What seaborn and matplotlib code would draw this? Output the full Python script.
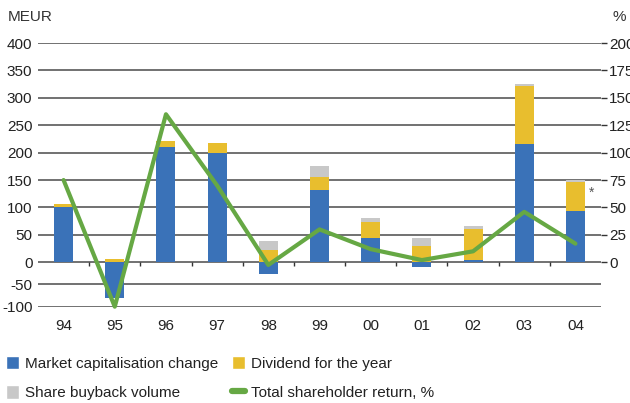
import numpy as np
import pandas as pd
import seaborn as sns
import matplotlib.pyplot as plt
from matplotlib.patches import Patch
from matplotlib.lines import Line2D

years = ["94", "95", "96", "97", "98", "99", "00", "01", "02", "03", "04"]
market_cap = [100, -81, 211, 200, -27, 131, 45, -10, 5, 215, 94]
dividend = [6, 6, 11, 17, 23, 25, 29, 30, 55, 106, 52]
buyback = [0, 0, 0, 0, 15, 19, 6, 15, 7, 4, 5]
tsr = [75, -50, 135, 70, -3, 30, 12, 2, 10, 46, 17]

blue = "#3a72b8"
yellow = "#e8be2e"
grey = "#c8c8c8"
green = "#66a844"

sns.set_style("white")
plt.rcParams["font.family"] = ["Liberation Sans", "DejaVu Sans"]
plt.rcParams["axes.unicode_minus"] = False

df = pd.DataFrame({"year": years, "mcap": market_cap, "div": dividend, "buy": buyback})
base = df["mcap"].clip(lower=0)
df["div_top"] = base + df["div"]
df["buy_top"] = df["div_top"] + df["buy"]

# negative side of the chart is drawn a bit squashed
k = 0.81
def fwd(v):
    v = np.asarray(v, dtype=float)
    return np.where(v < 0, v * k, v)
def inv(v):
    v = np.asarray(v, dtype=float)
    return np.where(v < 0, v / k, v)

fig = plt.figure(figsize=(6.3, 4.03), dpi=100)
ax = fig.add_axes([0.0603, 0.239, 0.8937, 0.6543])
ax.set_yscale("function", functions=(fwd, inv))

bar_kw = dict(width=0.37, saturation=1, linewidth=0, ax=ax)
sns.barplot(data=df, x="year", y="buy_top", color=grey, **bar_kw)
sns.barplot(data=df, x="year", y="div_top", color=yellow, **bar_kw)
sns.barplot(data=df, x="year", y="mcap", color=blue, **bar_kw)

ax.set_ylim(-100, 400)
ax.set_xlim(-0.5, 10.5)
ax.set_yticks(np.arange(-100, 401, 50))
ax.yaxis.grid(True, color="#4a4a4a", lw=1.1)
ax.set_axisbelow(True)
for s in ax.spines.values():
    s.set_visible(False)
ax.set_xlabel("")
ax.set_ylabel("")
ax.tick_params(axis="both", length=0, labelsize=11, colors="#222222")
ax.tick_params(axis="x", pad=9)
ax.tick_params(axis="y", pad=4)
ax.vlines(np.arange(0.5, 10), -8, 0, color="#333333", lw=1)

ax2 = ax.twinx()
ax2.set_yscale("function", functions=(fwd, inv))
sns.lineplot(x=np.arange(len(years)), y=tsr, color=green, lw=3, ax=ax2, clip_on=False)
ax2.set_ylim(-50, 200)
ax2.set_yticks(np.arange(0, 201, 25))
ax2.tick_params(axis="y", length=4, width=1, color="#333333", labelsize=11,
                labelcolor="#222222", pad=2)
for s in ax2.spines.values():
    s.set_visible(False)
ax2.set_ylabel("")
ax2.set_xlim(-0.5, 10.5)

fig.text(0.013, 0.958, "MEUR", fontsize=11, color="#333333", va="center")
fig.text(0.972, 0.958, "%", fontsize=11, color="#333333", va="center")
ax.text(10.27, 127, "*", fontsize=10, color="#555555", ha="left", va="center")

handles = [
    Patch(facecolor=blue, label="Market capitalisation change"),
    Patch(facecolor=grey, label="Share buyback volume"),
    Patch(facecolor=yellow, label="Dividend for the year"),
    Line2D([0], [0], color=green, lw=4.5, label="Total shareholder return, %"),
]
leg = fig.legend(handles=handles, ncol=2, loc="upper left", bbox_to_anchor=(0.005, 0.125),
                 frameon=False, prop={"size": 11},
                 handlelength=0.85, handleheight=1.0, handletextpad=0.4,
                 labelspacing=0.95, columnspacing=0.9, borderaxespad=0, borderpad=0.2)
for t in leg.get_texts():
    t.set_color("#222222")

fig.savefig("out.png", dpi=100)
